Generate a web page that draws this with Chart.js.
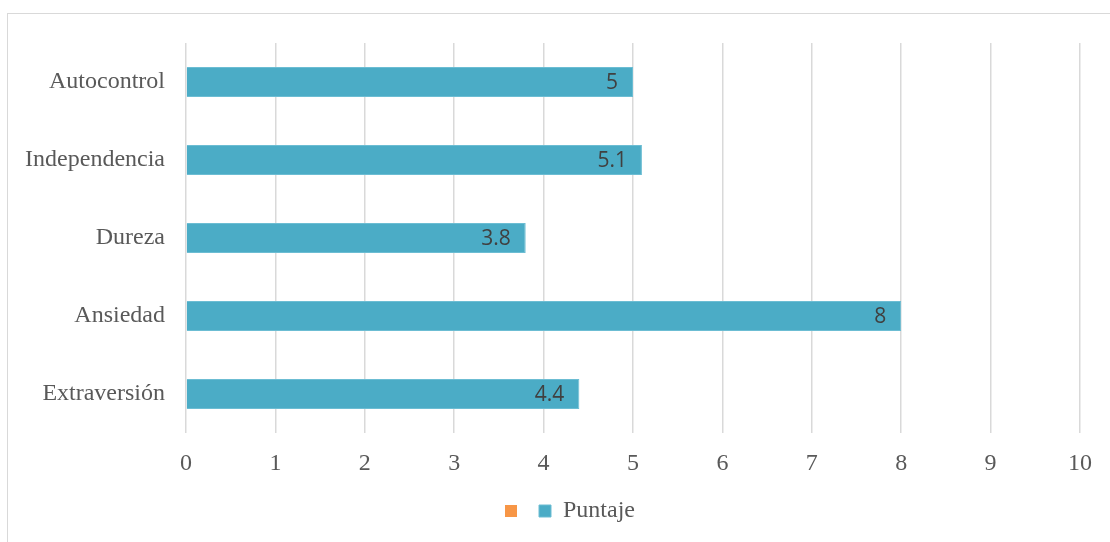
<!DOCTYPE html>
<html>
<head>
<meta charset="utf-8">
<script src="https://cdn.jsdelivr.net/npm/chart.js@4.4.1/dist/chart.umd.min.js"></script>
<style>
  html, body { margin: 0; padding: 0; background: #fff; }
  #wrap { position: relative; width: 1110px; height: 542px; overflow: hidden; }
  #frame { position: absolute; left: 7px; top: 13px; width: 1200px; height: 600px; border: 1.5px solid #d9d9d9; box-sizing: border-box; }
  canvas { position: absolute; left: 0; top: 0; }
</style>
</head>
<body>
<div id="wrap">
  <div id="frame"></div>
  <canvas id="c" width="1110" height="542"></canvas>
</div>
<script>
const categories = ["Autocontrol", "Independencia", "Dureza", "Ansiedad", "Extraversión"];
const puntaje = [5, 5.1, 3.8, 8, 4.4];
const emptySeries = [null, null, null, null, null];
const xTicks = [0, 1, 2, 3, 4, 5, 6, 7, 8, 9, 10];

const serif = "'Liberation Serif', 'Times New Roman', serif";

const barLabels = {
  id: 'barLabels',
  afterDatasetsDraw(chart) {
    const ctx = chart.ctx;
    const meta = chart.getDatasetMeta(1);
    ctx.save();
    ctx.font = "21px 'Open Sans', sans-serif";
    ctx.fillStyle = '#404040';
    ctx.textAlign = 'right';
    ctx.textBaseline = 'middle';
    meta.data.forEach((el, i) => {
      const v = chart.data.datasets[1].data[i];
      ctx.fillText(String(v), el.x - 15, el.y + 1);
    });
    ctx.restore();
  }
};

const legendShift = {
  id: 'legendShift',
  afterLayout(chart) {
    if (chart.legend) {
      chart.legend.left += 30;
      chart.legend.right += 30;
    }
  }
};

new Chart(document.getElementById('c'), {
  type: 'bar',
  data: {
    labels: categories,
    datasets: [
      { label: '', data: emptySeries, backgroundColor: '#F79646', grouped: false },
      { label: 'Puntaje', data: puntaje, backgroundColor: '#4BACC6', borderColor: '#6cbdd3', borderWidth: 1, grouped: false,
        barPercentage: 0.385, categoryPercentage: 1 }
    ]
  },
  options: {
    indexAxis: 'y',
    responsive: false,
    animation: false,
    devicePixelRatio: 1,
    layout: { padding: { top: 43, right: 30, bottom: 9, left: 0 } },
    plugins: {
      legend: {
        position: 'bottom',
        labels: {
          boxWidth: 12, boxHeight: 12, padding: 10,
          color: '#595959',
          font: { family: serif, size: 24 }
        }
      },
      tooltip: { enabled: false }
    },
    scales: {
      x: {
        min: 0, max: 10,
        afterBuildTicks(scale) { scale.ticks = xTicks.map(v => ({ value: v })); },
        afterFit(scale) { scale.height = 56; },
        grid: { color: '#d9d9d9', lineWidth: 1.5, drawTicks: false },
        border: { display: false },
        ticks: { color: '#595959', padding: 16, font: { family: serif, size: 24 } }
      },
      y: {
        afterFit(scale) { scale.width = 186; },
        grid: { display: false, drawTicks: false },
        border: { display: false },
        ticks: { color: '#595959', padding: 21, font: { family: serif, size: 24 } }
      }
    }
  },
  plugins: [barLabels, legendShift]
});
</script>
</body>
</html>
